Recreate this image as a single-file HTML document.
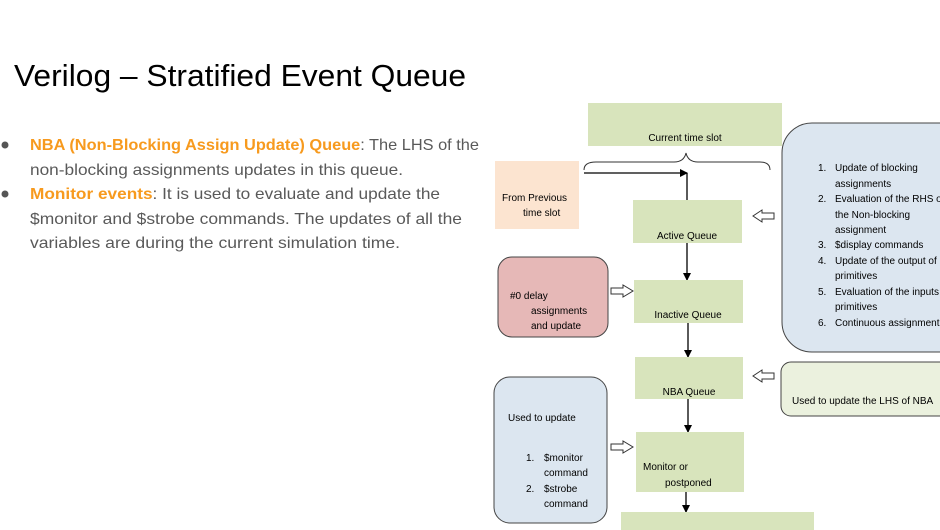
<!DOCTYPE html>
<html><head><meta charset="utf-8"><style>
html,body{margin:0;padding:0;background:#fff;}
svg{display:block;font-family:"Liberation Sans",sans-serif;}
</style></head><body>
<svg width="940" height="530" viewBox="0 0 940 530" xmlns="http://www.w3.org/2000/svg">
<defs><marker id="ah" markerWidth="8" markerHeight="8" refX="7" refY="4" orient="auto" markerUnits="userSpaceOnUse"><path d="M0,0 L8,4 L0,8 z" fill="#000"/></marker></defs>
<text x="14" y="86" font-size="31" fill="#000" textLength="452" lengthAdjust="spacingAndGlyphs">Verilog – Stratified Event Queue</text>
<circle cx="5" cy="145" r="3.5" fill="#555"/>
<circle cx="5" cy="194" r="3.5" fill="#555"/>
<g font-size="16" fill="#595959">
<text x="30" y="150" textLength="449" lengthAdjust="spacingAndGlyphs"><tspan fill="#f79a1e" font-weight="bold">NBA (Non-Blocking Assign Update) Queue</tspan>: The LHS of the</text>
<text x="30" y="175" textLength="373" lengthAdjust="spacingAndGlyphs">non-blocking assignments updates in this queue.</text>
<text x="30" y="199" textLength="410" lengthAdjust="spacingAndGlyphs"><tspan fill="#f79a1e" font-weight="bold">Monitor events</tspan>: It is used to evaluate and update the</text>
<text x="30" y="224" textLength="432" lengthAdjust="spacingAndGlyphs">$monitor and $strobe commands. The updates of all the</text>
<text x="30" y="248" textLength="370" lengthAdjust="spacingAndGlyphs">variables are during the current simulation time.</text>
</g>
<g font-size="10" fill="#000">
<rect x="588" y="103" width="194" height="43" fill="#d8e4bc"/>
<text x="685" y="141" text-anchor="middle">Current time slot</text>
<path d="M584,170 Q584,162 596,162 L674,162 Q684,162 686,153 Q688,162 698,162 L760,162 Q770,162 770,170" fill="none" stroke="#333" stroke-width="1"/>
<rect x="495" y="161" width="84" height="68" fill="#fce4d0"/>
<text x="502" y="201">From Previous</text>
<text x="523" y="216">time slot</text>
<path d="M584,173 L687,173" stroke="#000" stroke-width="1.3" marker-end="url(#ah)"/>
<path d="M687,173 L687,200" stroke="#000" stroke-width="1.3"/>
<rect x="633" y="200" width="109" height="43" fill="#d8e4bc"/>
<text x="687" y="239" text-anchor="middle">Active Queue</text>
<path d="M687,243 L687,280" stroke="#000" stroke-width="1.3" marker-end="url(#ah)"/>
<rect x="634" y="280" width="109" height="43" fill="#d8e4bc"/>
<text x="688" y="318" text-anchor="middle">Inactive Queue</text>
<path d="M688,323 L688,357" stroke="#000" stroke-width="1.3" marker-end="url(#ah)"/>
<rect x="635" y="357" width="108" height="42" fill="#d8e4bc"/>
<text x="689" y="395" text-anchor="middle">NBA Queue</text>
<path d="M688,399 L688,432" stroke="#000" stroke-width="1.3" marker-end="url(#ah)"/>
<rect x="636" y="432" width="108" height="60" fill="#d8e4bc"/>
<text x="643" y="470">Monitor or</text>
<text x="665" y="486">postponed</text>
<path d="M686,492 L686,512" stroke="#000" stroke-width="1.3" marker-end="url(#ah)"/>
<rect x="621" y="512" width="193" height="20" fill="#d8e4bc"/>
<rect x="782" y="123" width="190" height="229" rx="30" fill="#dce6f0" stroke="#444" stroke-width="1"/>
<text x="818" y="171">1.</text><text x="835" y="171">Update of blocking</text>
<text x="835" y="187">assignments</text>
<text x="818" y="202">2.</text><text x="835" y="202">Evaluation of the RHS of</text>
<text x="835" y="218">the Non-blocking</text>
<text x="835" y="233">assignment</text>
<text x="818" y="248">3.</text><text x="835" y="248">$display commands</text>
<text x="818" y="264">4.</text><text x="835" y="264">Update of the output of</text>
<text x="835" y="279">primitives</text>
<text x="818" y="295">5.</text><text x="835" y="295">Evaluation of the inputs</text>
<text x="835" y="310">primitives</text>
<text x="818" y="326">6.</text><text x="835" y="326">Continuous assignment</text>
<rect x="498" y="257" width="110" height="80" rx="14" fill="#e6b8b7" stroke="#444" stroke-width="1"/>
<text x="510" y="299">#0 delay</text>
<text x="531" y="314">assignments</text>
<text x="531" y="329">and update</text>
<rect x="781" y="362" width="180" height="54" rx="10" fill="#ebf1de" stroke="#444" stroke-width="1"/>
<text x="792" y="404">Used to update the LHS of NBA</text>
<rect x="494" y="377" width="113" height="146" rx="16" fill="#dce6f0" stroke="#444" stroke-width="1"/>
<text x="508" y="421">Used to update</text>
<text x="526" y="461">1.</text><text x="544" y="461">$monitor</text>
<text x="544" y="476">command</text>
<text x="526" y="492">2.</text><text x="544" y="492">$strobe</text>
<text x="544" y="507">command</text>
<g fill="#fff" stroke="#333" stroke-width="1">
<path d="M774,213 L762,213 L762,210 L753,216 L762,222 L762,219 L774,219 z"/>
<path d="M774,373 L762,373 L762,370 L753,376 L762,382 L762,379 L774,379 z"/>
<path d="M611,288 L623,288 L623,285 L633,291 L623,297 L623,294 L611,294 z"/>
<path d="M611,444 L623,444 L623,441 L633,447 L623,453 L623,450 L611,450 z"/>
</g>
</g>
</svg>
</body></html>
